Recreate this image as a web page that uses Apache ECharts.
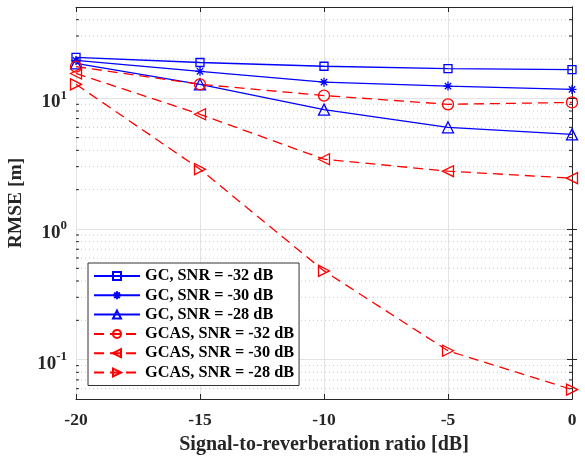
<!DOCTYPE html>
<html>
<head>
<meta charset="utf-8">
<script src="https://cdn.jsdelivr.net/npm/echarts@6/dist/echarts.min.js"></script>
<style>html,body{margin:0;padding:0;background:#fff;}#c{width:585px;height:456px;}</style>
</head>
<body>
<div id="c"></div>
<script>
const xValues = [-20, -15, -10, -5, 0];
const seriesNames = ['GC, SNR = -32 dB', 'GC, SNR = -30 dB', 'GC, SNR = -28 dB',
  'GCAS, SNR = -32 dB', 'GCAS, SNR = -30 dB', 'GCAS, SNR = -28 dB'];
const gc32 = [20.6, 18.8, 17.6, 16.9, 16.6];
const gc30 = [19.5, 16.1, 13.3, 12.4, 11.7];
const gc28 = [18.5, 12.8, 8.2, 6.0, 5.3];
const gcas32 = [17.5, 12.8, 10.5, 9.0, 9.3];
const gcas30 = [15.5, 7.55, 3.42, 2.77, 2.45];
const gcas28 = [12.8, 2.87, 0.478, 0.117, 0.059];
const minorYTicks = [0.06, 0.07, 0.08, 0.09, 0.2, 0.3, 0.4, 0.5, 0.6, 0.7, 0.8, 0.9,
  2, 3, 4, 5, 6, 7, 8, 9, 20, 30, 40];
const xMin = -20, xMax = 0, xStep = 5;
const yMin = 0.05, yMax = 50;

const FONT = '"Liberation Serif", "Times New Roman", serif';
const TXT = '#262626';
const BLUE = '#0000ff', RED = '#ff0000';
const asterisk = 'path://M0,-5L0,5M-5,0L5,0M-3.5,-3.5L3.5,3.5M-3.5,3.5L3.5,-3.5';

function mk(name, data, color, dashed, symbol, size, rot) {
  return {
    name, type: 'line', data: xValues.map((x, i) => [x, data[i]]),
    symbol, symbolSize: size, symbolRotate: rot || 0,
    lineStyle: { color, width: 1.3, type: dashed ? [10, 6] : 'solid' },
    itemStyle: { color: 'rgba(0,0,0,0)', borderColor: color, borderWidth: 1.3 },
    emphasis: { disabled: true }, z: 5
  };
}

const chart = echarts.init(document.getElementById('c'), null, { renderer: 'canvas' });
const axisLineStyle = { color: TXT, width: 1 };
chart.setOption({
  animation: false,
  backgroundColor: '#fff',
  grid: { left: 76, right: 13, top: 7, bottom: 57, containLabel: false, outerBoundsMode: 'none' },
  legend: {
    orient: 'vertical', left: 88, top: 263,
    itemWidth: 46, itemHeight: 10, itemGap: 3.3,
    padding: [5, 5, 5, 5],
    borderColor: '#333', borderWidth: 1, backgroundColor: '#fff',
    textStyle: { fontFamily: FONT, fontWeight: 'bold', fontSize: 16.3, color: '#000' },
    data: seriesNames
  },
  xAxis: [{
    type: 'value', min: xMin, max: xMax, interval: xStep,
    name: 'Signal-to-reverberation ratio [dB]', nameLocation: 'middle', nameGap: 36,
    nameTextStyle: { fontFamily: FONT, fontWeight: 'bold', fontSize: 20, color: TXT },
    axisLine: { lineStyle: axisLineStyle },
    axisTick: { inside: true, length: 5, lineStyle: axisLineStyle },
    axisLabel: { fontFamily: FONT, fontWeight: 'bold', fontSize: 17.5, color: TXT, margin: 12 },
    splitLine: { show: true, lineStyle: { color: '#e3e3e3', width: 1 } }
  }, {
    type: 'value', position: 'top', min: xMin, max: xMax, interval: xStep,
    axisLine: { lineStyle: axisLineStyle },
    axisTick: { inside: true, length: 5, lineStyle: axisLineStyle },
    axisLabel: { show: false }, splitLine: { show: false }
  }],
  yAxis: [{
    type: 'log', logBase: 10, min: yMin, max: yMax,
    name: 'RMSE [m]', nameLocation: 'middle', nameGap: 50, nameRotate: 90,
    nameTextStyle: { fontFamily: FONT, fontWeight: 'bold', fontSize: 19.5, color: TXT },
    axisLine: { show: true, lineStyle: axisLineStyle },
    axisTick: { inside: true, length: 5, lineStyle: axisLineStyle },
    axisLabel: {
      showMinLabel: false, showMaxLabel: false, margin: 9,
      formatter: v => '{b|10}{e|' + Math.round(Math.log10(v)) + '}',
      rich: {
        b: { fontFamily: FONT, fontWeight: 'bold', fontSize: 19, color: TXT, lineHeight: 19, padding: [8, 0, 0, 0] },
        e: { fontFamily: FONT, fontWeight: 'bold', fontSize: 13, color: TXT, verticalAlign: 'top', lineHeight: 19 }
      }
    },
    splitLine: { show: true, lineStyle: { color: '#e3e3e3', width: 1 } }
  }, {
    type: 'log', logBase: 10, min: yMin, max: yMax, position: 'right',
    axisLine: { show: true, lineStyle: axisLineStyle },
    axisTick: { inside: true, length: 5, lineStyle: axisLineStyle },
    axisLabel: { show: false }, splitLine: { show: false }
  }],
  series: [
    {
      type: 'custom', name: 'minor', silent: true, z: 1,
      data: minorYTicks.map(v => [xMin, v]),
      encode: { x: 0, y: 1 },
      renderItem: (params, api) => {
        const v = api.value(1);
        const a = api.coord([xMin, v]);
        const b = api.coord([xMax, v]);
        return {
          type: 'group', children: [
            { type: 'line', shape: { x1: a[0] + 1, y1: a[1], x2: b[0] - 1, y2: b[1] },
              style: { stroke: '#c8c8c8', lineWidth: 1, lineDash: [1, 3] } },
            { type: 'line', shape: { x1: a[0], y1: a[1], x2: a[0] + 3, y2: a[1] },
              style: { stroke: TXT, lineWidth: 1 } },
            { type: 'line', shape: { x1: b[0] - 3, y1: b[1], x2: b[0], y2: b[1] },
              style: { stroke: TXT, lineWidth: 1 } }
          ]
        };
      }
    },
    mk(seriesNames[0], gc32, BLUE, false, 'rect', 8),
    mk(seriesNames[1], gc30, BLUE, false, asterisk, 9),
    mk(seriesNames[2], gc28, BLUE, false, 'triangle', 11),
    mk(seriesNames[3], gcas32, RED, true, 'circle', 11),
    mk(seriesNames[4], gcas30, RED, true, 'triangle', 11, 90),
    mk(seriesNames[5], gcas28, RED, true, 'triangle', 11, -90)
  ]
});
</script>
</body>
</html>
